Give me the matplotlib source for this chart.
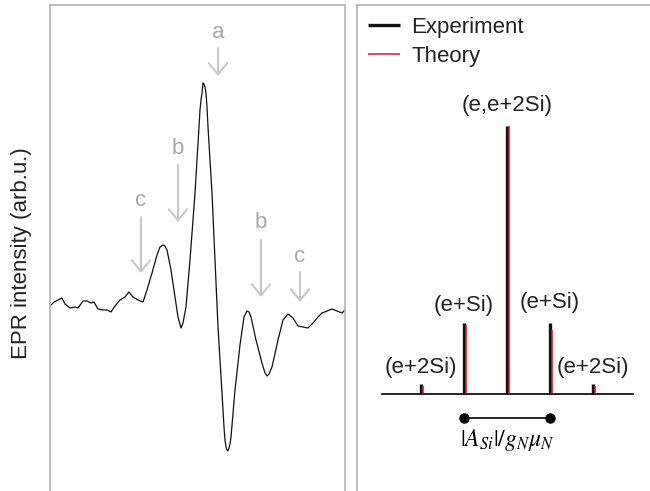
import numpy as np
import matplotlib
matplotlib.use('Agg')
import matplotlib.pyplot as plt

plt.rcParams['font.family'] = ['Liberation Sans', 'DejaVu Sans']
plt.rcParams['mathtext.fontset'] = 'stix'

# EPR spectrum (field and intensity in arb. units)
field = [0, 4, 8, 12, 15, 20, 25, 28, 33, 37, 41, 44, 48, 53, 57, 61, 65, 70, 75, 79,
         83, 88, 93, 97, 102, 107, 110, 113, 115, 117, 121, 125, 128, 131, 133, 136, 140, 145, 149, 150,
         151, 152, 153, 154, 155, 156, 157, 158, 162, 165, 168, 172, 174, 175, 176, 177, 178, 179, 180, 181,
         185, 190, 194, 197, 199, 201, 206, 212, 215, 217, 219, 222, 228, 233, 238, 243, 248, 253, 258, 263,
         268, 272, 277, 282, 287, 292, 295]
intensity = [-1, 3, 5, 7, 1, -3, -2, -3, 4, 4, 2, 3, -4, -5, -5, -7, -1, 5, 8, 13,
             8, 5, 3, 15, 32, 50, 58, 60, 59, 55, 35, 8, -12, -23, -18, -2, 45, 112, 178, 195,
             205, 212, 222, 221, 218, 212, 198, 178, 112, 45, -22, -88, -122, -135, -142, -145, -146, -143, -139, -132,
             -85, -40, -12, -6, -7, -12, -35, -58, -68, -71, -69, -62, -35, -15, -9, -13, -21, -22, -23, -18,
             -12, -8, -6, -4, -6, -8, -5]

# arrow markers: label, field, label height, arrow start, arrow end
mark_labels = ['a', 'b', 'c', 'b', 'c']
mark_field = [168, 128, 91, 211, 250]
mark_text_y = [273, 157, 105, 82, 49]
mark_from = [257, 140, 88, 65, 33]
mark_to = [229, 83, 32, 8, 3]

# stick spectrum (right panel), normalised to the central line
line_pos = [-2, -1, 0, 1, 2]
exp_height = [0.037, 0.265, 1.0, 0.265, 0.037]
theo_height = [0.030, 0.257, 1.0, 0.239, 0.030]
line_labels = ['(e+2Si)', '(e+Si)', '(e,e+2Si)', '(e+Si)', '(e+2Si)']
label_y = [0.097, 0.332, 1.078, 0.34, 0.097]

frame_col = '#b4b4b4'
arrow_col = '#c8c8c8'
letter_col = '#a8a8a8'

W, H = 650, 491
fig = plt.figure(figsize=(W / 100, H / 100), dpi=100)

# left panel
ax1 = fig.add_axes([50 / W, 0, 295 / W, 486 / H])
ax1.plot(field, intensity, color='#111111', lw=0.9)
ax1.set_xlim(0, 295)
ax1.set_ylim(-186, 300)
for lab, fx, ty, y0, y1 in zip(mark_labels, mark_field, mark_text_y, mark_from, mark_to):
    ax1.text(fx, ty, lab, color=letter_col, fontsize=16, ha='center', va='center')
    ax1.annotate('', xy=(fx, y1), xytext=(fx, y0),
                 arrowprops=dict(arrowstyle='->,head_length=0.4,head_width=0.33',
                                 color=arrow_col, lw=1.5, shrinkA=0, shrinkB=0,
                                 mutation_scale=20))
ax1.text(-0.095, 0.49, 'EPR intensity (arb.u.)', transform=ax1.transAxes,
         rotation=90, ha='center', va='center', fontsize=16, color='#222222')

# right panel
ax2 = fig.add_axes([357 / W, 0, 293 / W, 486 / H])
ax2.set_xlim(-3.488, 3.326)
ax2.set_ylim(-0.362, 1.4515)
ax2.plot([-2.907, 2.93], [0, 0], color='k', lw=1.2)
ax2.vlines(line_pos, 0, exp_height, color='#111111', lw=2.4, label='Experiment')
ax2.vlines(np.array(line_pos) + 0.045, 0, theo_height, color='#e8141c', lw=1.1, label='Theory')
for x, y, lab in zip(line_pos, label_y, line_labels):
    ax2.text(x, y, lab, fontsize=16, ha='center', va='center', color='#222222')
ax2.plot([-1, 1], [-0.0896, -0.0896], color='k', lw=1.2, marker='o', ms=6.5)
ax2.text(0, -0.172, r'$|A_{Si}|/g_N\mu_N$', fontsize=17, ha='center', va='center')
leg = ax2.legend(loc='upper left', bbox_to_anchor=(0.0375, 0.975), frameon=False,
                 fontsize=16, handlelength=1.45, handletextpad=0.5, labelspacing=0.35,
                 borderpad=0, borderaxespad=0)
for t in leg.get_texts():
    t.set_color('#222222')

for ax in (ax1, ax2):
    ax.set_xticks([])
    ax.set_yticks([])
    ax.spines['bottom'].set_visible(False)
    for s in ('left', 'right', 'top'):
        ax.spines[s].set_color(frame_col)
        ax.spines[s].set_linewidth(1.2)
ax2.spines['right'].set_visible(False)

fig.savefig('out.png', dpi=100)
